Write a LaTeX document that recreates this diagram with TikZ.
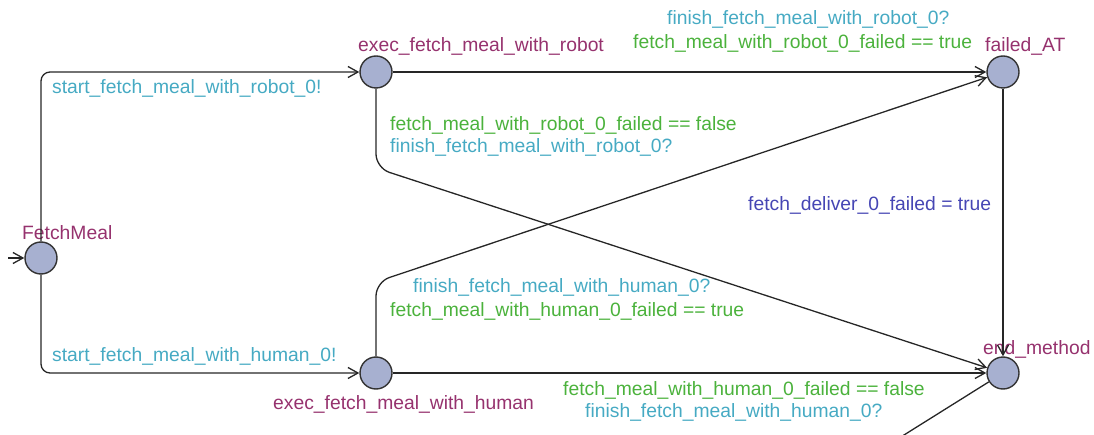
\documentclass[tikz,border=0pt]{standalone}
\usepackage{fontspec}
\setmainfont{Liberation Sans}
\usetikzlibrary{arrows.meta}
\definecolor{namecol}{RGB}{150,50,110}
\definecolor{synccol}{RGB}{70,170,195}
\definecolor{guardcol}{RGB}{75,178,60}
\definecolor{assigncol}{RGB}{70,70,180}
\definecolor{locfill}{RGB}{167,176,208}
\definecolor{locborder}{RGB}{50,50,50}
\begin{document}
\begin{tikzpicture}[x=1pt,y=-1pt,
  loc/.style={circle,draw=locborder,fill=locfill,line width=1.4pt,minimum size=32pt,inner sep=0pt},
  conn/.style={draw=black!85,line width=1.3pt},
  edge/.style={conn,-{Straight Barb[length=10pt,width=11pt,line width=1.3pt]}},
  lbl/.style={font=\fontsize{19.3}{23}\selectfont,inner sep=0pt,anchor=west,yshift=-2pt},
  locname/.style={lbl,text=namecol},
  sync/.style={lbl,text=synccol},
  guard/.style={lbl,text=guardcol},
  assign/.style={lbl,text=assigncol}]
\useasboundingbox (0,0) rectangle (1094,435);
\clip (0,0) rectangle (1094,435);
% locations
\node[loc] (fm) at (41,258) {};
\node[loc] (er) at (376,72) {};
\node[loc] (eh) at (376,373) {};
\node[loc] (fa) at (1003,72) {};
\node[loc] (em) at (1003,373) {};
% location names
\node[locname] (nfm) at (22,231) {FetchMeal};
\node[locname] (ner) at (358,44) {exec\_fetch\_meal\_with\_robot};
\node[locname] (neh) at (273,402) {exec\_fetch\_meal\_with\_human};
\node[locname] (nfa) at (985,44) {failed\_AT};
\node[locname] (nem) at (983,347) {end\_method};
% helper coordinates
\coordinate (init) at (8,258);
\coordinate (b1) at (376,168);
\coordinate (b2) at (376,282);
\coordinate (out) at (888,445);
% edges
\draw[edge] (init) -- (fm);
\draw[edge,rounded corners=9pt] (fm) |- (er);
\draw[edge,rounded corners=9pt] (fm) |- (eh);
\draw[edge] (er) -- (fa);
\draw[edge,rounded corners=14pt] (er) -- (b1) -- (em);
\draw[edge,rounded corners=14pt] (eh) -- (b2) -- (fa);
\draw[edge] (eh) -- (em);
\draw[edge] (fa) -- (em);
\draw[conn] (em) -- (out);
% edge labels
\node[sync] (l1) at (52,86) {start\_fetch\_meal\_with\_robot\_0!};
\node[sync] (l2) at (52,354) {start\_fetch\_meal\_with\_human\_0!};
\node[sync] (l3) at (667,17) {finish\_fetch\_meal\_with\_robot\_0?};
\node[guard] (l4) at (633,41) {fetch\_meal\_with\_robot\_0\_failed == true};
\node[guard] (l5) at (390,123) {fetch\_meal\_with\_robot\_0\_failed == false};
\node[sync] (l6) at (390,145) {finish\_fetch\_meal\_with\_robot\_0?};
\node[assign] (l7) at (748,203) {fetch\_deliver\_0\_failed = true};
\node[sync] (l8) at (413,285) {finish\_fetch\_meal\_with\_human\_0?};
\node[guard] (l9) at (390,309) {fetch\_meal\_with\_human\_0\_failed == true};
\node[guard] (l10) at (563,388) {fetch\_meal\_with\_human\_0\_failed == false};
\node[sync] (l11) at (585,410) {finish\_fetch\_meal\_with\_human\_0?};
\end{tikzpicture}
\end{document}
